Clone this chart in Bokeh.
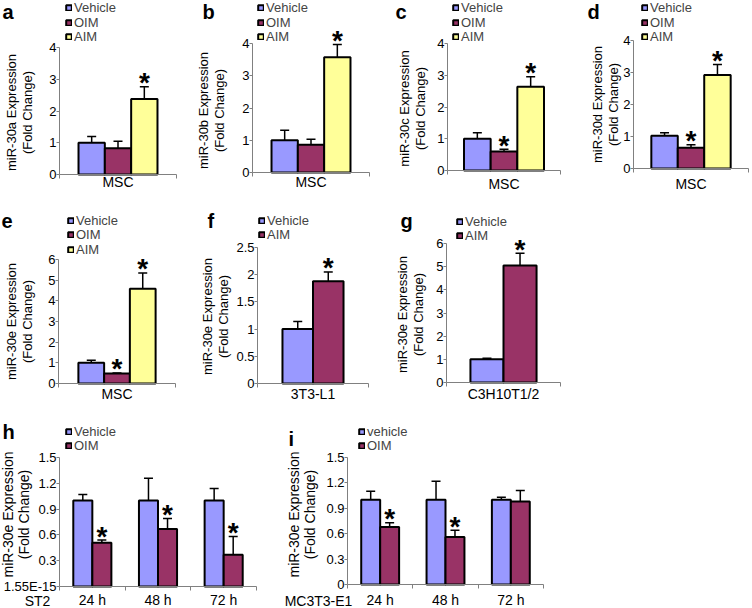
import math
from bokeh.plotting import figure
from bokeh.models import (ColumnDataSource, Whisker, TeeHead, Legend, LegendItem,
                          FixedTicker, Range1d, LinearAxis)
from bokeh.core.properties import value
from bokeh.layouts import row, column
from bokeh.embed import file_html
from bokeh.resources import INLINE

FONT = "Liberation Sans"
C_VEH, C_OIM, C_AIM = "#9999FF", "#993366", "#FFFF99"
AXIS_GRAY = "#808080"

# ---------------- data ----------------
msc_cat = ["MSC"]
three_series = ["Vehicle", "OIM", "AIM"]
three_colors = [C_VEH, C_OIM, C_AIM]

a_mean = [[1.00], [0.83], [2.38]]
a_err = [[0.20], [0.22], [0.38]]
a_star = [[0], [0], [1]]

b_mean = [[1.00], [0.86], [3.57]]
b_err = [[0.31], [0.17], [0.40]]
b_star = [[0], [0], [1]]

c_mean = [[1.00], [0.60], [2.64]]
c_err = [[0.19], [0.07], [0.31]]
c_star = [[0], [1], [1]]

d_mean = [[1.02], [0.65], [2.92]]
d_err = [[0.10], [0.09], [0.33]]
d_star = [[0], [1], [1]]

e_mean = [[1.00], [0.48], [4.58]]
e_err = [[0.12], [0.03], [0.77]]
e_star = [[0], [1], [1]]

two_series = ["Vehicle", "AIM"]
two_colors = [C_VEH, C_OIM]
f_cat = ["3T3-L1"]
f_mean = [[1.00], [1.88]]
f_err = [[0.14], [0.17]]
f_star = [[0], [1]]

g_cat = ["C3H10T1/2"]
g_mean = [[1.00], [5.05]]
g_err = [[0.05], [0.53]]
g_star = [[0], [1]]

time_cat = ["24 h", "48 h", "72 h"]
h_series = ["Vehicle", "OIM"]
h_mean = [[1.00, 1.00, 1.00], [0.51, 0.67, 0.37]]
h_err = [[0.07, 0.26, 0.14], [0.03, 0.12, 0.21]]
h_star = [[0, 0, 0], [1, 1, 1]]

i_series = ["vehicle", "OIM"]
i_mean = [[1.00, 1.00, 1.00], [0.68, 0.56, 0.98]]
i_err = [[0.10, 0.22, 0.03], [0.05, 0.08, 0.13]]
i_star = [[0, 0, 0], [1, 1, 0]]

y4_ticks = [0, 1, 2, 3, 4]
y4_labels = ["0", "1", "2", "3", "4"]
y6_ticks = [0, 1, 2, 3, 4, 5, 6]
y6_labels = ["0", "1", "2", "3", "4", "5", "6"]
f_ticks = [0, 0.5, 1, 1.5, 2, 2.5]
f_labels = ["0", "0.5", "1", "1.5", "2", "2.5"]
t_ticks = [0, 0.3, 0.6, 0.9, 1.2, 1.5]
h_labels = ["1.55E-15", "0.3", "0.6", "0.9", "1.2", "1.5"]
i_labels = ["0", "0.3", "0.6", "0.9", "1.2", "1.5"]

LEGEND_ITEM_H = 15


def panel(letter, ylab, cats, series, colors, means, errs, stars, yticks, ylabels, g):
    figL, figR, rowT, rowB = g["fig"]
    AX, FR, Y0, YT = g["frame"]
    ymax = yticks[-1]
    ncat = len(cats)
    pxu = (FR - AX) / ncat
    pyu = (Y0 - YT) / ymax

    def dx(sx):
        return (sx - AX) / pxu

    def dy(sy):
        return (Y0 - sy) / pyu

    p = figure(width=figR - figL, height=rowB - rowT,
               x_range=Range1d(dx(figL), dx(figR)), y_range=Range1d(dy(rowB), dy(rowT)),
               x_axis_location=None, y_axis_location=None,
               output_backend="svg", toolbar_location=None,
               min_border=0, min_border_left=0, min_border_right=0,
               min_border_top=0, min_border_bottom=0)
    p.outline_line_color = None
    p.grid.visible = False
    p.background_fill_color = "white"
    p.border_fill_color = "white"

    # y axis, drawn at x = 0
    ya = LinearAxis(fixed_location=0, bounds=(0, ymax),
                    ticker=FixedTicker(ticks=yticks, minor_ticks=[]),
                    major_label_overrides={t: l for t, l in zip(yticks, ylabels)},
                    major_tick_out=3, major_tick_in=0, minor_tick_out=0, minor_tick_in=0,
                    major_label_standoff=0, axis_line_color=AXIS_GRAY,
                    major_tick_line_color=AXIS_GRAY, major_label_text_font=FONT,
                    major_label_text_font_size="13px", major_label_text_color="black")
    p.add_layout(ya, "left")
    # x axis, drawn at y = 0
    centers = [i + 0.5 for i in range(ncat)]
    xa = LinearAxis(fixed_location=0, bounds=(0, ncat),
                    ticker=FixedTicker(ticks=centers, minor_ticks=list(range(ncat + 1))),
                    major_label_overrides={c: n for c, n in zip(centers, cats)},
                    major_tick_out=0, major_tick_in=0, minor_tick_out=4, minor_tick_in=0,
                    minor_tick_line_color=AXIS_GRAY, major_label_standoff=g["xstand"],
                    axis_line_color=AXIS_GRAY, major_label_text_font=FONT,
                    major_label_text_font_size="14px", major_label_text_color="black")
    p.add_layout(xa, "below")

    ns = len(series)
    bw = g["bw"]
    rows_y = g["legend_rows"]
    sqx = g["legend_x"]
    for j, (s, col) in enumerate(zip(series, colors)):
        xs = [i + 0.5 + (j - (ns - 1) / 2) * bw for i in range(ncat)]
        ups = [m + e for m, e in zip(means[j], errs[j])]
        src = ColumnDataSource(dict(x=xs, top=means[j], upper=ups))
        p.add_layout(Whisker(source=src, base="x", lower="top", upper="upper",
                             line_color="black", line_width=1.5, level="glyph",
                             upper_head=TeeHead(size=9, line_width=1.5, line_color="black"),
                             lower_head=None))
        r = p.vbar(x="x", top="top", width=bw, source=src, fill_color=col,
                   line_color="black", line_width=2)
        # one legend block per row so that the rows sit where the reference has them
        leg = Legend(items=[LegendItem(label=s, renderers=[r])],
                     location=(sqx - figL, rowB - (rows_y[j] + LEGEND_ITEM_H / 2)),
                     border_line_color=None, background_fill_alpha=0,
                     padding=0, margin=0, spacing=0, label_standoff=2,
                     glyph_width=7, glyph_height=7, label_height=13,
                     label_text_font=FONT, label_text_font_size="13px")
        p.add_layout(leg)
        sx = [x for x, f in zip(xs, stars[j]) if f]
        sy = [u for u, f in zip(ups, stars[j]) if f]
        if sx:
            ssrc = ColumnDataSource(dict(x=sx, y=sy, t=["*"] * len(sx)))
            p.text(x="x", y="y", text="t", source=ssrc, text_font_size="28px",
                   text_font=value(FONT), text_font_style="bold", text_align="center",
                   text_baseline="middle", y_offset=-4, text_color="black")

    # panel letter
    lx, lb = g["letter"]
    p.text(x=[dx(lx)], y=[dy(lb - 7)], text=[letter], text_font=value(FONT),
           text_font_size="20px", text_font_style="bold",
           text_baseline="middle", text_align="left", text_color="black")
    # y axis title
    cx, cy = g["ylab"]
    p.text(x=[dx(cx)], y=[dy(cy)], text=[ylab], angle=math.pi / 2,
           text_font=value(FONT), text_font_size=g["ylab_fs"], text_align="center",
           text_baseline="middle", text_line_height=g["ylab_lh"], text_color="black")
    for (txt, tx, ty) in g.get("extra", []):
        p.text(x=[dx(tx)], y=[dy(ty)], text=[txt], text_font=value(FONT),
               text_font_size="14px", text_align="center",
               text_baseline="middle", text_color="black")
    return p


R1 = (0, 208)
R2 = (208, 415)
R3 = (415, 608)
L3 = [7.5, 22, 36.5]

pa = panel("a", "miR-30a Expression\n(Fold Change)", msc_cat, three_series, three_colors,
           a_mean, a_err, a_star, y4_ticks, y4_labels,
           dict(fig=(0, 186) + R1, frame=(59, 176, 174, 47), bw=0.225, xstand=-5,
                legend_x=65, legend_rows=L3, letter=(2, 18), ylab=(19, 112),
                ylab_fs="13px", ylab_lh=1.08))
pb = panel("b", "miR-30b Expression\n(Fold Change)", msc_cat, three_series, three_colors,
           b_mean, b_err, b_star, y4_ticks, y4_labels,
           dict(fig=(186, 372) + R1, frame=(252, 369, 172, 43), bw=0.225, xstand=-3,
                legend_x=257, legend_rows=L3, letter=(202, 18), ylab=(211, 110),
                ylab_fs="13px", ylab_lh=1.08))
pc = panel("c", "miR-30c Expression\n(Fold Change)", msc_cat, three_series, three_colors,
           c_mean, c_err, c_star, y4_ticks, y4_labels,
           dict(fig=(372, 562) + R1, frame=(447, 560, 170, 43), bw=0.236, xstand=1,
                legend_x=452, legend_rows=L3, letter=(395, 18), ylab=(412, 108),
                ylab_fs="13px", ylab_lh=1.08))
pd = panel("d", "miR-30d Expression\n(Fold Change)", msc_cat, three_series, three_colors,
           d_mean, d_err, d_star, y4_ticks, y4_labels,
           dict(fig=(562, 750) + R1, frame=(633, 748, 168, 40), bw=0.23, xstand=3,
                legend_x=641, legend_rows=L3, letter=(587, 18), ylab=(605, 104),
                ylab_fs="13px", ylab_lh=1.08))
pe = panel("e", "miR-30e Expression\n(Fold Change)", msc_cat, three_series, three_colors,
           e_mean, e_err, e_star, y6_ticks, y6_labels,
           dict(fig=(0, 186) + R2, frame=(58, 175, 383, 259), bw=0.22, xstand=-2,
                legend_x=67, legend_rows=[220, 234.5, 249], letter=(1, 227), ylab=(19, 321),
                ylab_fs="13px", ylab_lh=1.08))
pf = panel("f", "miR-30e Expression\n(Fold Change)", f_cat, two_series, two_colors,
           f_mean, f_err, f_star, f_ticks, f_labels,
           dict(fig=(186, 372) + R2, frame=(257, 368, 383, 247), bw=0.275, xstand=-2,
                legend_x=258, legend_rows=[220, 234.5], letter=(207, 227), ylab=(215, 316),
                ylab_fs="13px", ylab_lh=1.08))
pg = panel("g", "miR-30e Expression\n(Fold Change)", g_cat, two_series, two_colors,
           g_mean, g_err, g_star, y6_ticks, y6_labels,
           dict(fig=(372, 750) + R2, frame=(446, 560, 382, 243), bw=0.29, xstand=-1,
                legend_x=456, legend_rows=[221, 235.5], letter=(400, 227), ylab=(410, 314),
                ylab_fs="13px", ylab_lh=1.08))
ph = panel("h", "miR-30e Expression\n(Fold Change)", time_cat, h_series, [C_VEH, C_OIM],
           h_mean, h_err, h_star, t_ticks, h_labels,
           dict(fig=(0, 280) + R3, frame=(59, 256, 586, 457), bw=0.29, xstand=1,
                legend_x=65, legend_rows=[431, 445.5], letter=(2, 438), ylab=(15, 514),
                ylab_fs="14px", ylab_lh=1.0, extra=[("ST2", 37, 600)]))
pi_ = panel("i", "miR-30e Expression\n(Fold Change)", time_cat, i_series, [C_VEH, C_OIM],
            i_mean, i_err, i_star, t_ticks, i_labels,
            dict(fig=(280, 750) + R3, frame=(347, 543, 584, 457), bw=0.29, xstand=3,
                 legend_x=358, legend_rows=[431, 445.5], letter=(288, 445), ylab=(301, 514),
                 ylab_fs="14px", ylab_lh=1.0, extra=[("MC3T3-E1", 318, 600)]))

layout = column(row(pa, pb, pc, pd), row(pe, pf, pg), row(ph, pi_))

open("out.html", "w").write(file_html(layout, INLINE))
